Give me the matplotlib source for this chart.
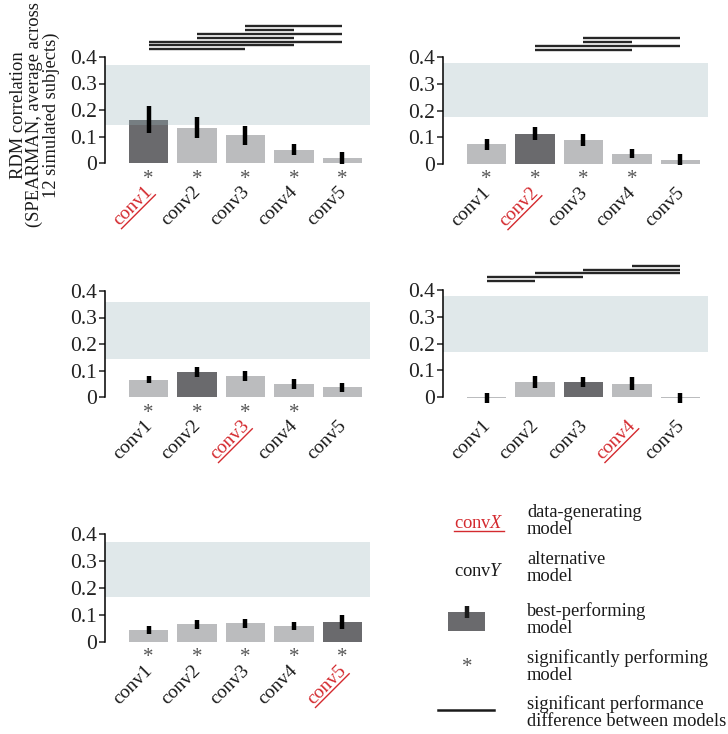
import matplotlib
matplotlib.use('Agg')
import matplotlib.pyplot as plt
import numpy as np
from matplotlib.transforms import ScaledTranslation, blended_transform_factory
from matplotlib.patches import Rectangle
from matplotlib.lines import Line2D
from matplotlib.font_manager import FontProperties

plt.rcParams['font.family'] = ['Liberation Serif', 'DejaVu Serif']
plt.rcParams['mathtext.fontset'] = 'custom'
plt.rcParams['mathtext.rm'] = 'Liberation Serif'
plt.rcParams['mathtext.it'] = 'Liberation Serif:italic'

layers = ['conv1', 'conv2', 'conv3', 'conv4', 'conv5']

# one row per panel (data generated by conv1 ... conv5)
means = [
    [0.164, 0.133, 0.105, 0.050, 0.020],
    [0.074, 0.114, 0.091, 0.039, 0.016],
    [0.066, 0.095, 0.080, 0.050, 0.036],
    [-0.004, 0.056, 0.056, 0.050, -0.004],
    [0.045, 0.065, 0.070, 0.060, 0.075],
]
errs = [
    [0.051, 0.040, 0.036, 0.020, 0.022],
    [0.020, 0.026, 0.022, 0.017, 0.020],
    [0.013, 0.020, 0.018, 0.018, 0.017],
    [0.020, 0.022, 0.019, 0.023, 0.020],
    [0.015, 0.017, 0.017, 0.015, 0.025],
]
ceilings = [(0.142, 0.369), (0.174, 0.377), (0.145, 0.357), (0.169, 0.377), (0.165, 0.371)]
generating = [0, 1, 2, 3, 4]
best = [0, 1, 1, 2, 4]
significant = [
    [1, 1, 1, 1, 1],
    [1, 1, 1, 1, 0],
    [1, 1, 1, 1, 0],
    [0, 0, 0, 0, 0],
    [1, 1, 1, 1, 1],
]
# pairwise differences, listed bottom line first
pairs = [
    [(0, 2), (0, 3), (0, 4), (1, 3), (1, 4), (2, 3), (2, 4)],
    [(1, 3), (1, 4), (2, 3), (2, 4)],
    [],
    [(0, 1), (0, 2), (1, 4), (2, 4), (3, 4)],
    [],
]
pair_base = [0.430, 0.427, 0.0, 0.434, 0.0]

LIGHT = '#bbbcbe'
DARK = '#6a6a6d'
RED = '#d42a2f'
W, H = 728, 734
LAB_FS = 14

fig = plt.figure(figsize=(W / 100, H / 100), dpi=100)


def fx(x):
    return x / W


def fy(y):
    return 1 - y / H


# panel boxes in pixels: left, y of 0.4, y of 0
boxes = [(105, 57, 163), (443, 57, 164), (105, 291, 397), (443, 290, 397), (105, 534, 642)]
red_anchors = []

for p in range(5):
    left, top, zero = boxes[p]
    ax = fig.add_axes([fx(left), fy(zero), 265 / W, (zero - top) / H])
    x = list(range(5))
    cols = [DARK if i == best[p] else LIGHT for i in x]
    ax.bar(x, means[p], width=0.82, color=cols, lw=0, zorder=1, clip_on=False)
    ax.axhspan(ceilings[p][0], ceilings[p][1], color=(0.59, 0.69, 0.72), alpha=0.29, lw=0, zorder=2)
    ax.errorbar(x, means[p], yerr=errs[p], fmt='none', ecolor='black', elinewidth=3.2,
                capsize=0, zorder=3, clip_on=False)

    ax.set_xlim(-0.9, 4.57)
    ax.set_ylim(0, 0.4)
    ax.set_yticks([0, 0.1, 0.2, 0.3, 0.4])
    ax.set_yticklabels(['0', '0.1', '0.2', '0.3', '0.4'])
    ax.set_xticks([])
    for s in ['top', 'right', 'bottom']:
        ax.spines[s].set_visible(False)
    ax.spines['left'].set_linewidth(1.1)
    ax.tick_params(axis='y', length=4, width=1.1, pad=2, labelsize=15.5, colors='#222222')

    star_tr = blended_transform_factory(ax.transData, ax.transAxes) + \
        ScaledTranslation(0, -0.16, fig.dpi_scale_trans)
    lab_tr = blended_transform_factory(ax.transData, ax.transAxes) + \
        ScaledTranslation(0.01, -0.26, fig.dpi_scale_trans)
    for i in x:
        if significant[p][i]:
            ax.text(i, 0, '*', transform=star_tr, ha='center', va='center',
                    fontsize=15, color='#555555')
        c = RED if i == generating[p] else '#1a1a1a'
        ax.text(i, 0, layers[i], transform=lab_tr, rotation=45, rotation_mode='anchor',
                ha='right', va='center', fontsize=LAB_FS, color=c)
        if i == generating[p]:
            red_anchors.append((lab_tr, i, layers[i]))

    for k, (a, b) in enumerate(pairs[p]):
        yy = pair_base[p] + k * 0.0142
        ax.plot([a, b], [yy, yy], color='#262626', lw=1.7, clip_on=False,
                solid_capstyle='butt')

fig.text(fx(35), fy(115), 'RDM correlation\n(SPEARMAN, average across\n12 simulated subjects)',
         rotation=90, ha='center', va='center', multialignment='center',
         fontsize=13.3, linespacing=0.95, color='#1a1a1a')

# legend
fs = 13.3
tx = fig.text(fx(479), fy(524), r'conv$\mathit{X}$', ha='center', va='center',
              fontsize=fs, color=RED)
fig.text(fx(479), fy(571), r'conv$\mathit{Y}$', ha='center', va='center', fontsize=fs,
         color='#1a1a1a')
fig.patches.append(Rectangle((fx(448), fy(631)), 37 / W, 19 / H, transform=fig.transFigure,
                             color=DARK, lw=0))
fig.lines.append(Line2D([fx(467), fx(467)], [fy(618), fy(606)], transform=fig.transFigure,
                        color='#1a1a1a', lw=3.2, solid_capstyle='butt'))
fig.text(fx(467), fy(667), '*', ha='center', va='center', fontsize=15, color='#555555')
fig.lines.append(Line2D([fx(438), fx(494)], [fy(710), fy(710)], transform=fig.transFigure,
                        color='#1a1a1a', lw=1.8))

legend_texts = ['data-generating\nmodel', 'alternative\nmodel', 'best-performing\nmodel',
                'significantly performing\nmodel', 'significant performance\ndifference between models']
legend_y = [521, 568, 620, 667, 713]
for t, yy in zip(legend_texts, legend_y):
    fig.text(fx(527), fy(yy), t, ha='left', va='center', fontsize=fs, linespacing=1.0,
             color='#1a1a1a')

# underlines for the data-generating labels (mathtext has no \underline)
fig.canvas.draw()
renderer = fig.canvas.get_renderer()
prop = FontProperties(family='Liberation Serif', size=LAB_FS)
inv = fig.transFigure.inverted()
c45 = np.cos(np.pi / 4)
for tr, i, s in red_anchors:
    w, h, d = renderer.get_text_width_height_descent(s, prop, ismath=False)
    ax0, ay0 = tr.transform((i, 0))
    off = 0.42 * LAB_FS * 100 / 72
    rx, ry = ax0 + off * c45, ay0 - off * c45
    lx, ly = rx - w * c45, ry - w * c45
    (x1, y1), (x2, y2) = inv.transform([(lx, ly), (rx, ry)])
    fig.lines.append(Line2D([x1, x2], [y1, y2], transform=fig.transFigure, color=RED, lw=1.0))

bb = tx.get_window_extent(renderer)
(x1, y1), (x2, y2) = inv.transform([(bb.x0, bb.y0 + 2), (bb.x1, bb.y0 + 2)])
fig.lines.append(Line2D([x1, x2], [y1, y2], transform=fig.transFigure, color=RED, lw=1.0))

fig.savefig('out.png', dpi=100)
